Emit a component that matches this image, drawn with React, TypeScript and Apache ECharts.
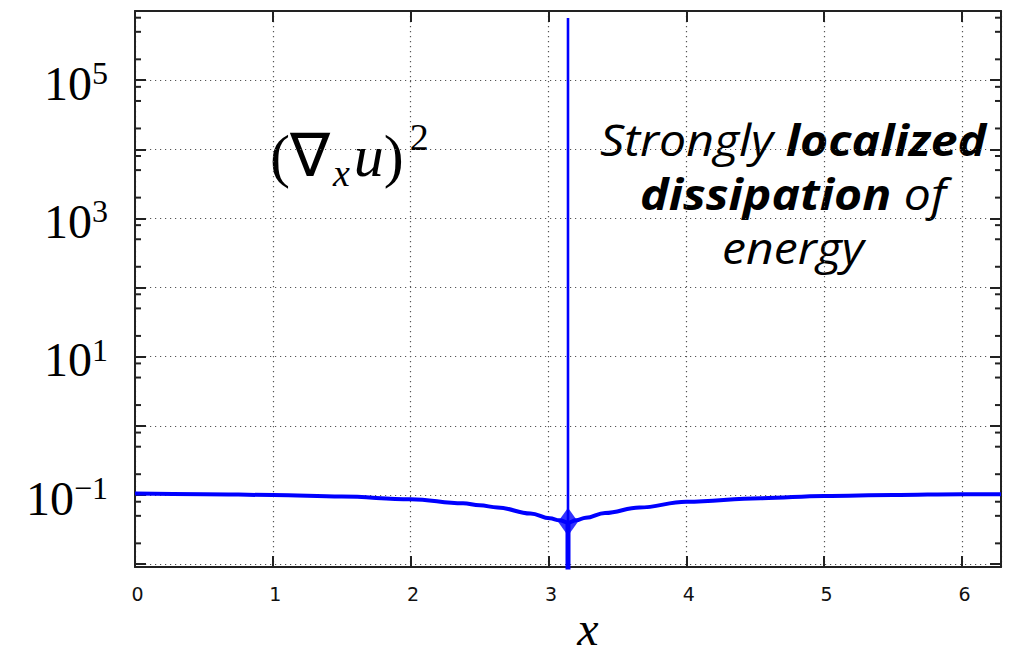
import React, { useEffect, useRef } from "react";
import * as echarts from "echarts";

// x positions and values of the smooth part of (grad u)^2
const curveX = [0, 0.5, 1, 1.5, 2, 2.38, 2.5, 2.63, 2.87, 3.01, 3.08, 3.1416, 3.2, 3.27, 3.41, 3.66, 4.0, 4.54, 5.0, 5.5, 6.0, 6.2832];
const curveY = [0.105, 0.103, 0.1, 0.095, 0.087, 0.076, 0.071, 0.066, 0.054, 0.046, 0.043, 0.04, 0.043, 0.047, 0.055, 0.066, 0.08, 0.09, 0.097, 0.1, 0.103, 0.103];

// the shock at x = pi
const spikeX = [3.1416, 3.1416];
const spikeY = [0.04, 7.9e5];
const dipY = [0.04, 0.004];
const blobPoint = [3.1416, 0.041];

// axes
const X_MIN = 0;
const X_MAX = 6.2832;
const Y_MIN = 0.0091;
const Y_MAX = 1e6;
const minorMantissas = [2, 5, 8];
const minorDecades = [-3, -2, -1, 0, 1, 2, 3, 4, 5];

const LINE_COLOR = "#0000ff";
const AXIS_COLOR = "#222";

export default function App() {
  const ref = useRef<HTMLDivElement>(null);

  useEffect(() => {
    document.body.style.margin = "0";
    const chart = echarts.init(ref.current!, null, { renderer: "svg" });

    const minorTicks: number[][] = [];
    minorDecades.forEach((d) => {
      minorMantissas.forEach((m) => {
        const v = m * Math.pow(10, d);
        if (v > Y_MIN && v < Y_MAX) minorTicks.push([0, v]);
      });
    });

    const supLabel = (v: number) => {
      const l = Math.log10(v);
      const e = Math.round(l);
      if (Math.abs(l - e) > 1e-6) return "";
      if (Math.abs(e) % 2 !== 1) return "";
      return `{b|10}{s|${e < 0 ? "\u2212" + -e : e}}`;
    };

    const axisX = (pos: "bottom" | "top", showLabel: boolean, grid: boolean) => ({
      type: "value",
      position: pos,
      min: X_MIN,
      max: X_MAX,
      interval: 1,
      axisLine: { show: true, onZero: false, lineStyle: { color: AXIS_COLOR, width: 2 } },
      axisTick: { show: true, inside: true, length: 11, lineStyle: { color: AXIS_COLOR, width: 2 } },
      axisLabel: {
        show: showLabel,
        formatter: (v: number) => (Math.abs(v - Math.round(v)) < 1e-9 ? String(Math.round(v)) : ""),
        fontFamily: "DejaVu Sans",
        fontSize: 19,
        color: "#111",
        margin: 17,
        padding: [0, 0, 0, 5],
      },
      splitLine: { show: grid, lineStyle: { type: [1.2, 3.8], color: "#555", width: 1.2 } },
    });

    const axisY = (pos: "left" | "right", showLabel: boolean, grid: boolean) => ({
      type: "log",
      logBase: 10,
      position: pos,
      min: Y_MIN,
      max: Y_MAX,
      splitNumber: 8,
      axisLine: { show: true, onZero: false, lineStyle: { color: AXIS_COLOR, width: 2 } },
      axisTick: { show: true, inside: true, length: 11, lineStyle: { color: AXIS_COLOR, width: 2 } },
      axisLabel: {
        show: showLabel,
        formatter: supLabel,
        margin: 27,
        rich: {
          b: { fontFamily: "Liberation Serif", fontSize: 48, color: "#000", lineHeight: 46, padding: [6, 0, 0, 0] },
          s: { fontFamily: "Liberation Serif", fontSize: 32, color: "#000", verticalAlign: "top", lineHeight: 30 },
        },
      },
      splitLine: { show: grid, lineStyle: { type: [1.2, 3.8], color: "#555", width: 1.2 } },
    });

    chart.setOption({
      animation: false,
      grid: { left: 135, right: 14, top: 11, bottom: 87, containLabel: false },
      xAxis: [axisX("bottom", true, true), axisX("top", false, false)],
      yAxis: [axisY("left", true, true), axisY("right", false, false)],
      series: [
        {
          type: "line",
          name: "curve",
          xAxisIndex: 0,
          yAxisIndex: 0,
          data: curveX.map((x, i) => [x, curveY[i]]),
          smooth: 0.4,
          smoothMonotone: "x",
          showSymbol: false,
          lineStyle: { color: LINE_COLOR, width: 4 },
          clip: true,
        },
        {
          type: "line",
          name: "spike",
          data: spikeX.map((x, i) => [x, spikeY[i]]),
          showSymbol: false,
          lineStyle: { color: LINE_COLOR, width: 2.6 },
          clip: true,
        },
        {
          type: "line",
          name: "dip",
          data: spikeX.map((x, i) => [x, dipY[i]]),
          showSymbol: false,
          lineStyle: { color: LINE_COLOR, width: 5 },
          clip: true,
        },
        {
          type: "scatter",
          name: "blob",
          data: [blobPoint],
          symbol: "diamond",
          symbolSize: [20, 28],
          itemStyle: { color: LINE_COLOR },
        },
        {
          type: "custom",
          name: "minorTicks",
          data: minorTicks,
          encode: { x: 0, y: 1 },
          silent: true,
          renderItem: (params: any, api: any) => {
            const cs = params.coordSys;
            const y = api.coord([0, api.value(1)])[1];
            const st = { stroke: AXIS_COLOR, lineWidth: 2 };
            return {
              type: "group",
              children: [
                { type: "line", shape: { x1: cs.x, y1: y, x2: cs.x + 6, y2: y }, style: st },
                { type: "line", shape: { x1: cs.x + cs.width - 6, y1: y, x2: cs.x + cs.width, y2: y }, style: st },
              ],
            };
          },
        },
      ],
      graphic: [
        {
          type: "text",
          left: 270,
          top: 118,
          style: {
            text: "{p|(\u2207}{sub|x}{i|u}{p|)}{sup|2}",
            rich: {
              p: { fontFamily: "Liberation Serif", fontSize: 60, color: "#000", lineHeight: 76 },
              i: { fontFamily: "Liberation Serif", fontStyle: "italic", fontSize: 60, color: "#000", lineHeight: 76 },
              sub: { fontFamily: "Liberation Serif", fontStyle: "italic", fontSize: 38, color: "#000", verticalAlign: "bottom", lineHeight: 38, padding: [0, 4, 2, 3] },
              sup: { fontFamily: "Liberation Serif", fontSize: 38, color: "#000", verticalAlign: "top", lineHeight: 38, padding: [0, 0, 0, 6] },
            },
          },
        },
        {
          type: "text",
          x: 793,
          y: 112,
          scaleX: 1.12,
          style: {
            text: "{n|Strongly} {b|localized}\n{b|dissipation} {n|of}\n{n|energy}",
            align: "center",
            verticalAlign: "top",
            fontFamily: "Open Sans",
            fontStyle: "italic",
            fontSize: 43,
            lineHeight: 54,
            fill: "#000",
            rich: {
              n: { fontFamily: "Open Sans", fontStyle: "italic", fontSize: 43, lineHeight: 54, color: "#000" },
              b: { fontFamily: "Open Sans", fontStyle: "italic", fontWeight: "bold", fontSize: 43, lineHeight: 54, color: "#000" },
            },
          },
        },
        {
          type: "text",
          x: 588,
          y: 628,
          style: {
            text: "x",
            align: "center",
            verticalAlign: "middle",
            fontFamily: "Liberation Serif",
            fontStyle: "italic",
            fontSize: 48,
            fill: "#000",
          },
        },
      ],
    });

    return () => chart.dispose();
  }, []);

  return <div ref={ref} style={{ width: 1015, height: 654 }} />;
}
